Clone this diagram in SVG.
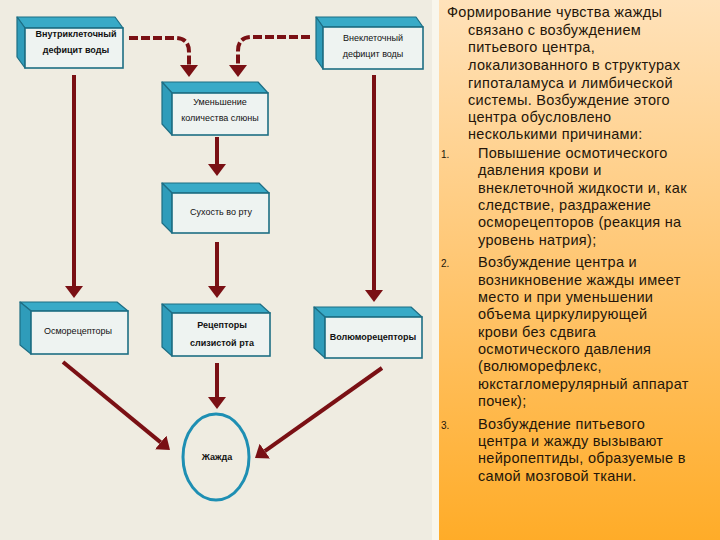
<svg xmlns="http://www.w3.org/2000/svg" width="720" height="540" viewBox="0 0 720 540">
<defs>
<linearGradient id="pg" x1="0" y1="0" x2="0" y2="1">
<stop offset="0" stop-color="#FFE2BA"/>
<stop offset="0.45" stop-color="#FFC979"/>
<stop offset="1" stop-color="#FFAC28"/>
</linearGradient>
<marker id="ah" viewBox="0 0 12 18" refX="0" refY="9" markerWidth="12" markerHeight="18" markerUnits="userSpaceOnUse" orient="auto">
<path d="M0,0 L12,9 L0,18 z" fill="#7A1014"/>
</marker>
<style>
.top{fill:#38AAC7;stroke:#1D6E84;stroke-width:1.2;stroke-linejoin:round}
.side{fill:#2F9CBA;stroke:#1D6E84;stroke-width:1.2;stroke-linejoin:round}
.front{fill:#EEF3F1;stroke:#1D6E84;stroke-width:1.6}
.bt{font-family:"Liberation Sans",Arial,sans-serif;font-size:9px;fill:#111;text-anchor:middle;font-weight:bold}
.bn{font-weight:normal}
.ln{fill:none;stroke:#7A1014;stroke-width:4;marker-end:url(#ah)}
.dash{stroke-dasharray:9 3}
.pt{font-family:"Liberation Sans",Arial,sans-serif;font-size:14.5px;letter-spacing:0.3px;fill:#24160A}
.num{font-size:10px;letter-spacing:0}
</style>
</defs>
<rect x="0" y="0" width="720" height="540" fill="#EFECE1"/>
<rect x="432" y="0" width="7" height="540" fill="#F8F6EC"/>
<rect x="439" y="0" width="281" height="540" fill="url(#pg)"/>

<g id="connectors">
<path class="ln dash" d="M129,38 H175 Q189,38 189,52 V65"/>
<path class="ln dash" d="M310,37 H252 Q238,37 238,51 V65"/>
<path class="ln" d="M74,75 V286"/>
<path class="ln" d="M374,75 V290"/>
<path class="ln" d="M217,137 V164"/>
<path class="ln" d="M217,242 V286"/>
<path class="ln" d="M217,363 V397"/>
<path class="ln" d="M63,362 L160.7,442.4"/>
<path class="ln" d="M382,368 L264.8,451.1"/>
</g>

<g id="n1">
<polygon class="top" points="17,17 115,17 123,28 25,28"/>
<polygon class="side" points="17,17 25,28 25,68 17,57"/>
<rect class="front" x="25" y="28" width="98" height="40"/>
<text class="bt" x="76" y="37">Внутриклеточный</text>
<text class="bt" x="76" y="53">дефицит воды</text>
</g>

<g id="n2">
<polygon class="top" points="316,17 416,17 423,27 323,27"/>
<polygon class="side" points="316,17 323,27 323,69 316,59"/>
<rect class="front" x="323" y="27" width="100" height="42"/>
<text class="bt bn" x="373" y="41">Внеклеточный</text>
<text class="bt bn" x="373" y="57">дефицит воды</text>
</g>

<g id="n3">
<polygon class="top" points="162,82 258,82 268,93 172,93"/>
<polygon class="side" points="162,82 172,93 172,135 162,124"/>
<rect class="front" x="172" y="93" width="96" height="42"/>
<text class="bt bn" x="220" y="105">Уменьшение</text>
<text class="bt bn" x="220" y="121">количества слюны</text>
</g>

<g id="n4">
<polygon class="top" points="162,183 259,183 269,193 172,193"/>
<polygon class="side" points="162,183 172,193 172,233 162,223"/>
<rect class="front" x="172" y="193" width="97" height="40"/>
<text class="bt bn" x="221" y="215">Сухость во рту</text>
</g>

<g id="n5">
<polygon class="top" points="20,302 117,302 128,311 31,311"/>
<polygon class="side" points="20,302 31,311 31,354 20,345"/>
<rect class="front" x="31" y="311" width="97" height="43"/>
<text class="bt bn" x="78" y="334">Осморецепторы</text>
</g>

<g id="n6">
<polygon class="top" points="162,304 260,304 270,313 172,313"/>
<polygon class="side" points="162,304 172,313 172,356 162,347"/>
<rect class="front" x="172" y="313" width="98" height="43"/>
<text class="bt" x="222" y="328">Рецепторы</text>
<text class="bt" x="222" y="346">слизистой рта</text>
</g>

<g id="n7">
<polygon class="top" points="314,307 411,307 422,317 325,317"/>
<polygon class="side" points="314,307 325,317 325,358 314,348"/>
<rect class="front" x="325" y="317" width="97" height="41"/>
<text class="bt" x="373" y="340">Волюморецепторы</text>
</g>

<g id="n8">
<ellipse cx="216" cy="457" rx="33" ry="43" fill="none" stroke="#1E8FB3" stroke-width="3"/>
<text class="bt" x="217" y="460">Жажда</text>
</g>

<g id="panel">
<text class="pt" x="447" y="17">Формирование чувства жажды</text>
<text class="pt" x="468" y="35">связано с возбуждением</text>
<text class="pt" x="468" y="52">питьевого центра,</text>
<text class="pt" x="468" y="70">локализованного в структурах</text>
<text class="pt" x="468" y="88">гипоталамуса и лимбической</text>
<text class="pt" x="468" y="105">системы. Возбуждение этого</text>
<text class="pt" x="468" y="122">центра обусловлено</text>
<text class="pt" x="468" y="139">несколькими причинами:</text>
<text class="pt num" x="441" y="158">1.</text>
<text class="pt" x="478" y="158">Повышение осмотического</text>
<text class="pt" x="478" y="175">давления крови и</text>
<text class="pt" x="478" y="193">внеклеточной жидкости и, как</text>
<text class="pt" x="478" y="210">следствие, раздражение</text>
<text class="pt" x="478" y="227">осморецепторов (реакция на</text>
<text class="pt" x="478" y="245">уровень натрия);</text>
<text class="pt num" x="441" y="267">2.</text>
<text class="pt" x="478" y="267">Возбуждение центра и</text>
<text class="pt" x="478" y="285">возникновение жажды имеет</text>
<text class="pt" x="478" y="302">место и при уменьшении</text>
<text class="pt" x="478" y="319">объема циркулирующей</text>
<text class="pt" x="478" y="337">крови без сдвига</text>
<text class="pt" x="478" y="354">осмотического давления</text>
<text class="pt" x="478" y="371">(волюморефлекс,</text>
<text class="pt" x="478" y="389">юкстагломерулярный аппарат</text>
<text class="pt" x="478" y="406">почек);</text>
<text class="pt num" x="441" y="429">3.</text>
<text class="pt" x="478" y="429">Возбуждение питьевого</text>
<text class="pt" x="478" y="446">центра и жажду вызывают</text>
<text class="pt" x="478" y="463">нейропептиды, образуемые в</text>
<text class="pt" x="478" y="481">самой мозговой ткани.</text>
</g>
</svg>
